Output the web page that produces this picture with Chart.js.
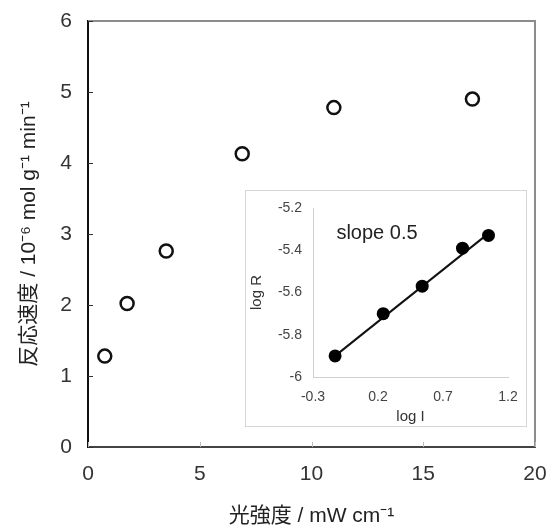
<!DOCTYPE html>
<html>
<head>
<meta charset="utf-8">
<script src="https://cdn.jsdelivr.net/npm/chart.js@4.4.1/dist/chart.umd.min.js"></script>
<style>
  body { margin: 0; background: #fff; }
  #wrap { position: relative; width: 551px; height: 526px; }
  #insetBox {
    position: absolute; left: 245px; top: 190px;
    width: 282px; height: 237px;
    border: 1px solid #d6d6d6; background: #fff; box-sizing: border-box;
  }
</style>
</head>
<body>
<div id="wrap">
  <canvas id="mainChart" width="551" height="526"></canvas>
  <div id="insetBox"><canvas id="insetChart" width="280" height="235"></canvas></div>
</div>
<script>
// main plot: light intensity vs reaction rate
const intensity = [0.75, 1.75, 3.5, 6.9, 11.0, 17.2];
const rate = [1.28, 2.02, 2.76, 4.13, 4.78, 4.90];
const xTicks = [0, 5, 10, 15, 20];
const yTicks = [0, 1, 2, 3, 4, 5, 6];

// inset: log-log plot
const logI = [-0.13, 0.24, 0.54, 0.85, 1.05];
const logR = [-5.90, -5.70, -5.57, -5.39, -5.33];
const fitX = [-0.13, 1.05];
const fitY = [-5.90, -5.32];
const insetXTicks = [-0.3, 0.2, 0.7, 1.2];
const insetYTicks = [-6, -5.8, -5.6, -5.4, -5.2];
const slopeLabel = 'slope 0.5';

const FONT = "'Liberation Sans', Arial, 'Noto Sans CJK JP', sans-serif";

function toPoints(xs, ys) {
    return xs.map((x, i) => ({ x: x, y: ys[i] }));
}
function setTicks(list) {
    return function (scale) { scale.ticks = list.map(v => ({ value: v })); };
}
// fixed axis size, no extra room for overflowing end labels
function fixX(h) {
    return s => { s.height = h; s.paddingLeft = 0; s.paddingRight = 0; };
}
function fixY(w) {
    return s => { s.width = w; s.paddingTop = 0; s.paddingBottom = 0; };
}

// frame (top/right) and inward tick marks for the main plot
const framePlugin = {
    id: 'frame',
    beforeDatasetsDraw(chart) {
        const { ctx, chartArea: a, scales } = chart;
        ctx.save();
        ctx.strokeStyle = '#8c8c8c';
        ctx.lineWidth = 2;
        ctx.beginPath();
        ctx.moveTo(a.left, a.top);
        ctx.lineTo(a.right, a.top);
        ctx.lineTo(a.right, a.bottom);
        ctx.stroke();

        ctx.lineWidth = 1;
        ctx.strokeStyle = '#333';
        yTicks.forEach(v => {
            const y = Math.round(scales.y.getPixelForValue(v)) + 0.5;
            ctx.beginPath();
            ctx.moveTo(a.left, y);
            ctx.lineTo(a.left + 5, y);
            ctx.stroke();
        });
        ctx.strokeStyle = '#bbb';
        xTicks.forEach(v => {
            const x = Math.round(scales.x.getPixelForValue(v)) + 0.5;
            ctx.beginPath();
            ctx.moveTo(x, a.bottom);
            ctx.lineTo(x, a.bottom - 5);
            ctx.stroke();
        });
        ctx.restore();
    }
};

new Chart(document.getElementById('mainChart'), {
    type: 'scatter',
    data: {
        datasets: [{
            data: toPoints(intensity, rate),
            pointStyle: 'circle',
            pointRadius: 6.5,
            pointBorderWidth: 2.5,
            pointBorderColor: '#111',
            pointBackgroundColor: '#fff',
            showLine: false
        }]
    },
    options: {
        responsive: false,
        animation: false,
        layout: { padding: { top: 21, right: 16, left: 0, bottom: 0 } },
        plugins: { legend: { display: false }, tooltip: { enabled: false } },
        scales: {
            x: {
                type: 'linear', min: 0, max: 20,
                afterBuildTicks: setTicks(xTicks),
                afterFit: fixX(79),
                grid: { drawOnChartArea: false, drawTicks: false },
                border: { color: '#444', width: 2 },
                ticks: { color: '#333', padding: 15, font: { family: FONT, size: 21 } },
                title: {
                    display: true, text: '光強度 / mW cm⁻¹', color: '#222',
                    padding: { top: 0, bottom: -3 }, font: { family: FONT, size: 21 }
                }
            },
            y: {
                type: 'linear', min: 0, max: 6,
                afterBuildTicks: setTicks(yTicks),
                afterFit: fixY(88),
                grid: { drawOnChartArea: false, drawTicks: false },
                border: { color: '#111', width: 2 },
                ticks: { color: '#333', padding: 16, font: { family: FONT, size: 21 } },
                title: {
                    display: true, text: '反応速度 / 10⁻⁶ mol g⁻¹ min⁻¹', color: '#222',
                    padding: { top: 17, bottom: 0 }, font: { family: FONT, size: 21 }
                }
            }
        }
    },
    plugins: [framePlugin]
});

// slope text inside the inset
const slopePlugin = {
    id: 'slopeText',
    afterDatasetsDraw(chart) {
        const { ctx, scales } = chart;
        ctx.save();
        ctx.font = '20px ' + FONT;
        ctx.fillStyle = '#222';
        ctx.textBaseline = 'middle';
        ctx.fillText(slopeLabel, scales.x.getPixelForValue(-0.12), scales.y.getPixelForValue(-5.32));
        ctx.restore();
    }
};

new Chart(document.getElementById('insetChart'), {
    type: 'scatter',
    data: {
        datasets: [{
            data: toPoints(logI, logR),
            pointStyle: 'circle',
            pointRadius: 6.5,
            pointBorderWidth: 0,
            pointBackgroundColor: '#000',
            showLine: false
        }, {
            data: toPoints(fitX, fitY),
            showLine: true,
            borderColor: '#111',
            borderWidth: 2,
            pointRadius: 0
        }]
    },
    options: {
        responsive: false,
        animation: false,
        layout: { padding: { top: 17, right: 18, left: 0, bottom: 0 } },
        plugins: { legend: { display: false }, tooltip: { enabled: false } },
        scales: {
            x: {
                type: 'linear', min: -0.3, max: 1.2,
                afterBuildTicks: setTicks(insetXTicks),
                afterFit: fixX(49),
                grid: { drawOnChartArea: false, drawTicks: false },
                border: { color: '#d0d0d0', width: 1 },
                ticks: { color: '#444', padding: 12, font: { family: FONT, size: 14 },
                         callback: v => String(Number(v.toFixed(1))) },
                title: {
                    display: true, text: 'log I', color: '#333',
                    padding: { top: 0, bottom: 0 }, font: { family: FONT, size: 15 }
                }
            },
            y: {
                type: 'linear', min: -6, max: -5.2,
                afterBuildTicks: setTicks(insetYTicks),
                afterFit: fixY(67),
                grid: { drawOnChartArea: false, drawTicks: false },
                border: { color: '#d0d0d0', width: 1 },
                ticks: { color: '#444', padding: 11, font: { family: FONT, size: 14 },
                         callback: v => String(Number(v.toFixed(1))) },
                title: {
                    display: true, text: 'log R', color: '#333',
                    padding: { top: 2, bottom: 0 }, font: { family: FONT, size: 15 }
                }
            }
        }
    },
    plugins: [slopePlugin]
});
</script>
</body>
</html>
